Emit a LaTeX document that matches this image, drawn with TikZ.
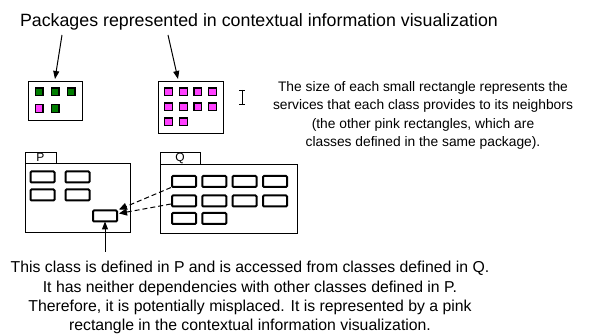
\documentclass[tikz,border=0pt]{standalone}
\usepackage{fontspec}
\setmainfont{Liberation Sans}
\usetikzlibrary{arrows.meta}
\definecolor{pkgreen}{RGB}{0,125,0}
\definecolor{pkpink}{RGB}{255,64,255}
\begin{document}
\begin{tikzpicture}[x=1pt,y=-1pt,
  every node/.style={inner sep=0pt,outer sep=0pt},
  arr/.style={line width=1pt,-{Triangle[length=8pt,width=6pt]}},
  darr/.style={line width=1pt,dash pattern=on 5pt off 3pt,-{Triangle[length=8pt,width=7pt]}},
  pkg/.style={draw,line width=0.9pt},
  cls/.style={draw,line width=2pt,rounded corners=1pt,minimum width=24pt,minimum height=11pt},
  gsq/.style={draw,line width=1.2pt,fill=pkgreen,minimum size=7.8pt},
  psq/.style={draw,line width=1.2pt,fill=pkpink,minimum size=7.8pt},
  rtxt/.style={font=\fontsize{13.8}{16}\selectfont,anchor=base},
  btxt/.style={font=\fontsize{15.8}{19}\selectfont,anchor=base},
  tab/.style={font=\fontsize{12}{12}\selectfont},
]
\useasboundingbox (0,0) rectangle (598,336);
% title
\node[anchor=base west,font=\fontsize{17.8}{20}\selectfont] (title) at (20,27) {Packages represented in contextual information visualization};
\coordinate (a1s) at (62,35);
\coordinate (a1e) at (55,79);
\coordinate (a2s) at (168,35);
\coordinate (a2e) at (178,79);
\draw[arr] (a1s) -- (a1e);
\draw[arr] (a2s) -- (a2e);
% small package 1
\draw[pkg] (28,81) rectangle (82,120);
\node[gsq] (g1) at (39,92) {};
\node[gsq] (g2) at (55,92) {};
\node[gsq] (g3) at (71,92) {};
\node[psq] (g4) at (39,108.5) {};
\node[gsq] (g5) at (55,108.5) {};
% small package 2
\draw[pkg] (158,81) rectangle (223,133);
\foreach \c [count=\i] in {168.5,183.2,197.9,212.6}{
  \node[psq] (pa\i) at (\c,92) {};
  \node[psq] (pb\i) at (\c,107) {};
}
\node[psq] (pc1) at (168.5,122) {};
\node[psq] (pc2) at (183.2,122) {};
% I-beam
\draw[line width=0.7pt] (242,90) -- (242,104) (239,90) -- (245,90) (239,104) -- (245,104);
% right text
\node[rtxt] (r1) at (423,91.5) {The size of each small rectangle represents the};
\node[rtxt] (r2) at (423,110) {services that each class provides to its neighbors};
\node[rtxt] (r3) at (423,128.5) {(the other pink rectangles, which are};
\node[rtxt] (r4) at (423,147) {classes defined in the same package).};
% package P
\draw[pkg] (25,152) rectangle (56,163);
\node[tab] (ptab) at (40.5,157.5) {P};
\draw[pkg] (25,163) rectangle (130,232);
\node[cls] (p1) at (42.5,177) {};
\node[cls] (p2) at (77.5,177) {};
\node[cls] (p3) at (42.5,195) {};
\node[cls] (p4) at (77.5,195) {};
\node[cls] (m) at (105,216) {};
% package Q
\draw[pkg] (160,152.5) rectangle (200,164);
\node[tab] (qtab) at (180,158.3) {Q};
\draw[pkg] (160,164) rectangle (297,233);
\foreach \c [count=\i] in {184,214.3,244.5,275}{
  \node[cls] (qa\i) at (\c,181.5) {};
  \node[cls] (qb\i) at (\c,201) {};
}
\node[cls] (qc1) at (184,218.5) {};
\node[cls] (qc2) at (214.3,218.5) {};
% dashed dependencies
\coordinate (d1s) at (171,187.5);
\coordinate (d1e) at (119,209.5);
\coordinate (d2s) at (171,204);
\coordinate (d2e) at (119,213.5);
\draw[darr] (d1s) -- (d1e);
\draw[darr] (d2s) -- (d2e);
% up arrow
\coordinate (ub) at (105,252);
\draw[arr] (ub) -- (m.south);
% bottom text
\node[btxt] (b1) at (250,273) {This class is defined in P and is accessed from classes defined in Q.};
\node[btxt] (b2) at (250,292.3) {It has neither dependencies with other classes defined in P.};
\node[btxt] (b3) at (250,311.6) {Therefore, it is potentially misplaced. It is represented by a pink};
\node[btxt] (b4) at (250,331) {rectangle in the contextual information visualization.};
\end{tikzpicture}
\end{document}
